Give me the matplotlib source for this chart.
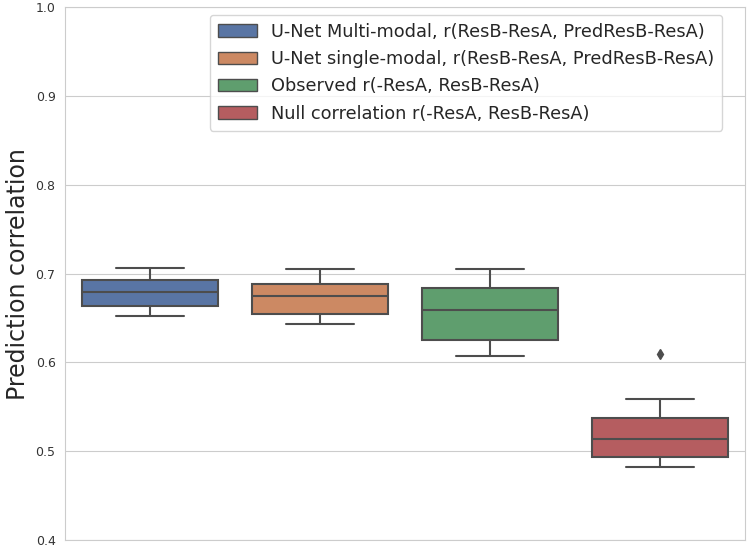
import matplotlib
matplotlib.use("Agg")
import matplotlib.pyplot as plt
import seaborn as sns
from matplotlib.patches import Patch

sns.set_style("whitegrid")
plt.rcParams['font.family'] = ['DejaVu Sans']

labels = [
    "U-Net Multi-modal, r(ResB-ResA, PredResB-ResA)",
    "U-Net single-modal, r(ResB-ResA, PredResB-ResA)",
    "Observed r(-ResA, ResB-ResA)",
    "Null correlation r(-ResA, ResB-ResA)",
]
colors = ["#5975a4", "#cc8963", "#5f9e6e", "#b55d60"]

# box stats
whislo = [0.652, 0.643, 0.607, 0.482]
q1 = [0.663, 0.655, 0.625, 0.494]
med = [0.679, 0.675, 0.659, 0.514]
q3 = [0.693, 0.688, 0.684, 0.537]
whishi = [0.706, 0.705, 0.705, 0.559]
fliers = [[], [], [], [0.609]]

stats = []
for i in range(4):
    stats.append(dict(whislo=whislo[i], q1=q1[i], med=med[i], q3=q3[i],
                      whishi=whishi[i], fliers=fliers[i], label=""))

fig = plt.figure(figsize=(7.5, 5.45), dpi=100)
ax = fig.add_axes([0.087, 0.009, 0.906, 0.978])

lc = "#4d4d4d"
bp = ax.bxp(stats, positions=range(4), widths=0.8, patch_artist=True,
            boxprops=dict(edgecolor=lc, linewidth=1.5),
            medianprops=dict(color=lc, linewidth=1.5),
            whiskerprops=dict(color=lc, linewidth=1.5),
            capprops=dict(color=lc, linewidth=1.5),
            flierprops=dict(marker="d", markerfacecolor=lc, markeredgecolor=lc,
                            markersize=5))
for b, c in zip(bp["boxes"], colors):
    b.set_facecolor(c)
for cap in bp["caps"]:
    x0, x1 = cap.get_xdata()
    m = (x0 + x1) / 2
    cap.set_xdata([m - 0.2, m + 0.2])

ax.set_xlim(-0.5, 3.5)
ax.set_ylim(0.4, 1.0)
ax.set_xticks([])
ax.tick_params(axis="y", labelsize=9, colors="#333333")
ax.set_ylabel("Prediction correlation", fontsize=17)
ax.grid(axis="x", visible=False)
for s in ax.spines.values():
    s.set_color("#cccccc")

handles = [Patch(facecolor=c, edgecolor=lc, label=l) for c, l in zip(colors, labels)]
ax.legend(handles=handles, loc="upper right", fontsize=12.8,
          bbox_to_anchor=(0.98, 1.002), handlelength=2.2,
          labelspacing=0.52, borderpad=0.45)

fig.savefig("out.png", dpi=100)
